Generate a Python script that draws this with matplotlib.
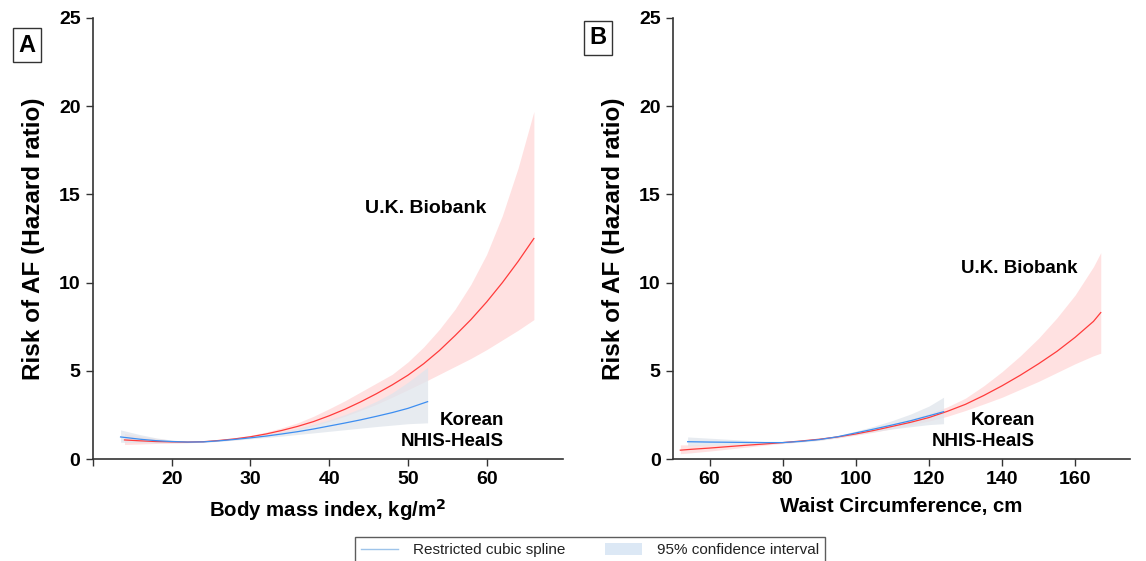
import numpy as np
import matplotlib
matplotlib.use("Agg")
import matplotlib.pyplot as plt
from matplotlib.lines import Line2D
from matplotlib.patches import Patch

plt.rcParams['font.family'] = ['Liberation Sans', 'DejaVu Sans']

# ---- Panel A: BMI ----
bmi_uk = [14, 16, 18, 20, 22, 24, 26, 28, 30, 32, 34, 36, 38, 40, 42, 44, 46, 48,
          50, 52, 54, 56, 58, 60, 62, 64, 66]
hr_uk_a = [1.08, 1.03, 0.99, 0.97, 0.96, 0.98, 1.05, 1.14, 1.26, 1.42, 1.62, 1.85,
           2.12, 2.45, 2.82, 3.24, 3.7, 4.2, 4.75, 5.4, 6.15, 7.0, 7.9, 8.9, 10.0,
           11.2, 12.5]
lo_uk_a = [0.82, 0.85, 0.88, 0.9, 0.92, 0.95, 1.01, 1.09, 1.19, 1.32, 1.48, 1.66,
           1.88, 2.13, 2.42, 2.75, 3.1, 3.5, 3.92, 4.35, 4.8, 5.25, 5.7, 6.2, 6.75,
           7.3, 7.9]
hi_uk_a = [1.45, 1.3, 1.17, 1.07, 1.01, 1.01, 1.09, 1.2, 1.34, 1.53, 1.77, 2.05,
           2.42, 2.85, 3.3, 3.8, 4.3, 4.8, 5.5, 6.35, 7.35, 8.5, 9.9, 11.6, 13.8,
           16.5, 19.7]

bmi_kr = [13.5, 16, 18, 20, 22, 24, 26, 28, 30, 32, 34, 36, 38, 40, 42, 44, 46, 48,
          50, 52.5]
hr_kr_a = [1.25, 1.12, 1.04, 0.99, 0.96, 0.97, 1.03, 1.11, 1.2, 1.3, 1.42, 1.55,
           1.7, 1.87, 2.04, 2.22, 2.42, 2.63, 2.87, 3.25]
lo_kr_a = [0.95, 0.93, 0.92, 0.92, 0.93, 0.95, 1.0, 1.07, 1.14, 1.22, 1.3, 1.39,
           1.48, 1.57, 1.66, 1.75, 1.84, 1.92, 2.0, 2.05]
hi_kr_a = [1.65, 1.38, 1.2, 1.07, 0.99, 0.99, 1.05, 1.15, 1.26, 1.4, 1.56, 1.74,
           1.96, 2.22, 2.52, 2.87, 3.27, 3.75, 4.35, 5.2]

# ---- Panel B: Waist circumference ----
wc_uk = [52, 55, 60, 65, 70, 75, 80, 85, 90, 95, 100, 105, 110, 115, 120, 125, 130,
         135, 140, 145, 150, 155, 160, 165, 167]
hr_uk_b = [0.5, 0.55, 0.62, 0.7, 0.78, 0.85, 0.93, 1.02, 1.12, 1.25, 1.42, 1.62,
           1.85, 2.08, 2.35, 2.7, 3.1, 3.6, 4.15, 4.75, 5.4, 6.1, 6.9, 7.8, 8.3]
lo_uk_b = [0.3, 0.35, 0.45, 0.56, 0.67, 0.78, 0.88, 0.98, 1.07, 1.19, 1.35, 1.52,
           1.72, 1.92, 2.15, 2.42, 2.75, 3.12, 3.5, 3.95, 4.4, 4.9, 5.4, 5.85, 6.0]
hi_uk_b = [0.8, 0.8, 0.8, 0.83, 0.87, 0.92, 0.98, 1.06, 1.17, 1.31, 1.5, 1.73,
           1.98, 2.26, 2.58, 2.95, 3.45, 4.15, 4.95, 5.85, 6.85, 8.0, 9.3, 10.9, 11.7]

wc_kr = [54, 60, 65, 70, 75, 80, 85, 90, 95, 100, 105, 110, 115, 120, 124]
hr_kr_b = [0.98, 0.96, 0.95, 0.94, 0.93, 0.93, 1.0, 1.1, 1.26, 1.48, 1.7, 1.93,
           2.17, 2.45, 2.68]
lo_kr_b = [0.75, 0.78, 0.81, 0.84, 0.87, 0.89, 0.96, 1.05, 1.2, 1.38, 1.55, 1.7,
           1.83, 1.95, 2.0]
hi_kr_b = [1.25, 1.18, 1.12, 1.06, 1.0, 0.97, 1.04, 1.15, 1.33, 1.58, 1.86, 2.18,
           2.55, 3.0, 3.5]

yticks = [0, 5, 10, 15, 20, 25]
xticks_a = [10, 20, 30, 40, 50, 60]
xticklabels_a = ['', '20', '30', '40', '50', '60']
xticks_b = [60, 80, 100, 120, 140, 160]

RED = '#ff3b3b'
RED_BAND = '#ffdcdc'
BLUE = '#3d8ef0'
GRAY_BAND = '#dfe5ec'

fig = plt.figure(figsize=(11.46, 5.61), dpi=100)
axA = fig.add_axes([93/1146, 1-459/561, (563-93)/1146, (459-18)/561])
axB = fig.add_axes([673/1146, 1-459/561, (1130-673)/1146, (459-18)/561])


def draw(ax, xu, hu, lu, uu, xk, hk, lk, uk):
    ax.fill_between(xu, lu, uu, color=RED_BAND, alpha=0.85, lw=0, zorder=1)
    ax.fill_between(xk, lk, uk, color=GRAY_BAND, alpha=0.75, lw=0, zorder=2)
    ax.plot(xu, hu, color=RED, lw=0.9, zorder=3)
    ax.plot(xk, hk, color=BLUE, lw=0.9, zorder=4)
    ax.set_ylim(0, 25)
    ax.set_yticks(yticks)
    for s in ['top', 'right']:
        ax.spines[s].set_visible(False)
    for s in ['left', 'bottom']:
        ax.spines[s].set_color('#333333')
        ax.spines[s].set_linewidth(1.2)
    ax.tick_params(direction='out', length=5, width=1, color='#333333',
                   labelsize=14, pad=4)
    for lab in ax.get_xticklabels() + ax.get_yticklabels():
        lab.set_fontweight('bold')
    ax.set_ylabel('Risk of AF (Hazard ratio)', fontsize=17.5, fontweight='bold', labelpad=10)


draw(axA, bmi_uk, hr_uk_a, lo_uk_a, hi_uk_a, bmi_kr, hr_kr_a, lo_kr_a, hi_kr_a)
axA.set_xlim(10, 69.7)
axA.set_xticks(xticks_a)
axA.set_xticklabels(xticklabels_a, fontweight='bold')
axA.set_xlabel('Body mass index, kg/m$^\\mathbf{2}$', fontsize=14.7, fontweight='bold', labelpad=6)
axA.text(52.2, 14.2, 'U.K. Biobank', fontsize=14, fontweight='bold', ha='center', va='center')
axA.text(62.2, 1.6, 'Korean\nNHIS-HealS', fontsize=13.5, fontweight='bold', ha='right',
         va='center', multialignment='right', linespacing=1.3)

draw(axB, wc_uk, hr_uk_b, lo_uk_b, hi_uk_b, wc_kr, hr_kr_b, lo_kr_b, hi_kr_b)
axB.set_xlim(50, 175)
axB.set_xticks(xticks_b)
axB.set_xticklabels([str(v) for v in xticks_b], fontweight='bold')
axB.set_xlabel('Waist Circumference, cm', fontsize=14.7, fontweight='bold', labelpad=6)
axB.text(144.8, 10.8, 'U.K. Biobank', fontsize=13.5, fontweight='bold', ha='center', va='center')
axB.text(149, 1.6, 'Korean\nNHIS-HealS', fontsize=13.5, fontweight='bold', ha='right',
         va='center', multialignment='right', linespacing=1.3)

# Panel letters
for (x, y, t) in [(27/1146, 1-45/561, 'A'), (598/1146, 1-38/561, 'B')]:
    fig.text(x, y, t, fontsize=17, fontweight='bold', ha='center', va='center',
             bbox=dict(boxstyle='square,pad=0.22', fc='white', ec='#333333', lw=1))

# Legend
handles = [Line2D([0], [0], color='#9ec4ea', lw=1),
           Patch(facecolor='#dce8f5', edgecolor='none')]
leg = fig.legend(handles, ['Restricted cubic spline', '95% confidence interval'],
                 loc='upper left', bbox_to_anchor=(355/1146, 1-537/561), ncol=2,
                 frameon=True, fancybox=False, fontsize=11, handlelength=2.4,
                 handleheight=0.8, columnspacing=2.6, borderpad=0.4,
                 handletextpad=1.0, borderaxespad=0)
leg.get_frame().set_edgecolor('#333333')
leg.get_frame().set_linewidth(1)
for t in leg.get_texts():
    t.set_color('#222222')

fig.savefig('out.png', dpi=100)
